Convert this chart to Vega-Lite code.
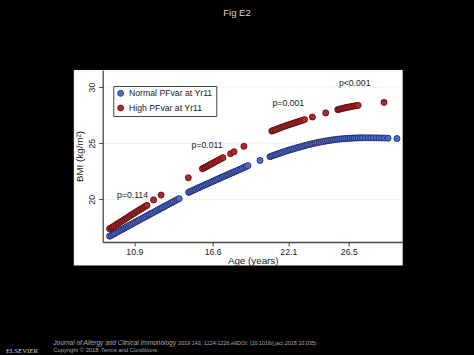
{
  "$schema": "https://vega.github.io/schema/vega-lite/v6.json",
  "autosize": {"type": "none"},
  "width": 300,
  "height": 172,
  "padding": {"left": 102.7, "top": 70, "right": 71.3, "bottom": 113},
  "background": "black",
  "title": {"text": "Fig E2", "color": "#d4d4d4", "fontSize": 9.5, "fontWeight": "normal", "font": "Liberation Sans", "anchor": "middle", "frame": "group", "dx": -15.7, "baseline": "alphabetic", "offset": 45},
  "config": {
    "font": "Liberation Sans",
    "view": {"stroke": null},
    "axis": {"zindex": 1}
  },
  "datasets": {
    "normal": [
      {"age": 9.10, "bmi": 16.72}, {"age": 9.22, "bmi": 16.80}, {"age": 9.35, "bmi": 16.89}, {"age": 9.46, "bmi": 16.96},
      {"age": 9.58, "bmi": 17.04}, {"age": 9.71, "bmi": 17.13}, {"age": 9.83, "bmi": 17.21}, {"age": 9.95, "bmi": 17.29},
      {"age": 10.08, "bmi": 17.37}, {"age": 10.20, "bmi": 17.45}, {"age": 10.33, "bmi": 17.54}, {"age": 10.45, "bmi": 17.62},
      {"age": 10.58, "bmi": 17.71}, {"age": 10.70, "bmi": 17.79}, {"age": 10.84, "bmi": 17.88}, {"age": 10.97, "bmi": 17.97},
      {"age": 11.10, "bmi": 18.05}, {"age": 11.22, "bmi": 18.13}, {"age": 11.36, "bmi": 18.23}, {"age": 11.49, "bmi": 18.31},
      {"age": 11.62, "bmi": 18.40}, {"age": 11.75, "bmi": 18.48}, {"age": 11.88, "bmi": 18.57}, {"age": 12.01, "bmi": 18.66},
      {"age": 12.14, "bmi": 18.74}, {"age": 12.28, "bmi": 18.83}, {"age": 12.41, "bmi": 18.92}, {"age": 12.55, "bmi": 19.01},
      {"age": 12.68, "bmi": 19.10}, {"age": 12.80, "bmi": 19.18}, {"age": 12.93, "bmi": 19.26}, {"age": 13.07, "bmi": 19.35},
      {"age": 13.20, "bmi": 19.44}, {"age": 13.34, "bmi": 19.53}, {"age": 13.48, "bmi": 19.62}, {"age": 13.62, "bmi": 19.71},
      {"age": 13.75, "bmi": 19.80}, {"age": 13.89, "bmi": 19.89}, {"age": 14.03, "bmi": 19.98}, {"age": 14.16, "bmi": 20.06},
      {"age": 14.85, "bmi": 20.62}, {"age": 14.97, "bmi": 20.69}, {"age": 15.10, "bmi": 20.76}, {"age": 15.22, "bmi": 20.83},
      {"age": 15.35, "bmi": 20.90}, {"age": 15.48, "bmi": 20.98}, {"age": 15.60, "bmi": 21.04}, {"age": 15.73, "bmi": 21.12},
      {"age": 15.86, "bmi": 21.19}, {"age": 15.99, "bmi": 21.26}, {"age": 16.12, "bmi": 21.33}, {"age": 16.25, "bmi": 21.41},
      {"age": 16.38, "bmi": 21.48}, {"age": 16.51, "bmi": 21.55}, {"age": 16.64, "bmi": 21.62}, {"age": 16.77, "bmi": 21.69},
      {"age": 16.90, "bmi": 21.77}, {"age": 17.03, "bmi": 21.84}, {"age": 17.16, "bmi": 21.91}, {"age": 17.29, "bmi": 21.98},
      {"age": 17.42, "bmi": 22.05}, {"age": 17.55, "bmi": 22.12}, {"age": 17.68, "bmi": 22.19}, {"age": 17.81, "bmi": 22.26},
      {"age": 17.94, "bmi": 22.33}, {"age": 18.07, "bmi": 22.40}, {"age": 18.20, "bmi": 22.47}, {"age": 18.34, "bmi": 22.54},
      {"age": 18.48, "bmi": 22.62}, {"age": 18.62, "bmi": 22.69}, {"age": 18.76, "bmi": 22.77}, {"age": 18.90, "bmi": 22.85},
      {"age": 19.03, "bmi": 22.92}, {"age": 19.16, "bmi": 23.00},
      {"age": 20.04, "bmi": 23.47},
      {"age": 20.77, "bmi": 23.80}, {"age": 20.90, "bmi": 23.86}, {"age": 21.03, "bmi": 23.92}, {"age": 21.16, "bmi": 23.97},
      {"age": 21.29, "bmi": 24.03}, {"age": 21.42, "bmi": 24.08}, {"age": 21.56, "bmi": 24.14}, {"age": 21.70, "bmi": 24.20},
      {"age": 21.84, "bmi": 24.26}, {"age": 21.98, "bmi": 24.32}, {"age": 22.12, "bmi": 24.37}, {"age": 22.26, "bmi": 24.42},
      {"age": 22.40, "bmi": 24.47}, {"age": 22.55, "bmi": 24.53}, {"age": 22.70, "bmi": 24.58}, {"age": 22.85, "bmi": 24.63},
      {"age": 23.00, "bmi": 24.68}, {"age": 23.15, "bmi": 24.73}, {"age": 23.30, "bmi": 24.78}, {"age": 23.45, "bmi": 24.83},
      {"age": 23.60, "bmi": 24.88}, {"age": 23.75, "bmi": 24.92}, {"age": 23.90, "bmi": 24.97}, {"age": 24.05, "bmi": 25.01},
      {"age": 24.20, "bmi": 25.05}, {"age": 24.35, "bmi": 25.09}, {"age": 24.50, "bmi": 25.12}, {"age": 24.65, "bmi": 25.15},
      {"age": 24.80, "bmi": 25.19}, {"age": 24.95, "bmi": 25.22}, {"age": 25.10, "bmi": 25.25}, {"age": 25.25, "bmi": 25.28},
      {"age": 25.40, "bmi": 25.30}, {"age": 25.55, "bmi": 25.33}, {"age": 25.70, "bmi": 25.35}, {"age": 25.85, "bmi": 25.37},
      {"age": 26.00, "bmi": 25.39}, {"age": 26.15, "bmi": 25.40}, {"age": 26.30, "bmi": 25.42}, {"age": 26.45, "bmi": 25.43},
      {"age": 26.60, "bmi": 25.44}, {"age": 26.75, "bmi": 25.45}, {"age": 26.90, "bmi": 25.46}, {"age": 27.05, "bmi": 25.47},
      {"age": 27.20, "bmi": 25.47}, {"age": 27.35, "bmi": 25.48}, {"age": 27.50, "bmi": 25.48}, {"age": 27.70, "bmi": 25.48},
      {"age": 27.90, "bmi": 25.48}, {"age": 28.10, "bmi": 25.48}, {"age": 28.30, "bmi": 25.48}, {"age": 28.50, "bmi": 25.47},
      {"age": 28.70, "bmi": 25.47}, {"age": 28.90, "bmi": 25.46}, {"age": 29.10, "bmi": 25.46}, {"age": 29.35, "bmi": 25.45},
      {"age": 30.00, "bmi": 25.42}
    ],
    "high": [
      {"age": 9.10, "bmi": 17.38}, {"age": 9.20, "bmi": 17.45}, {"age": 9.31, "bmi": 17.53}, {"age": 9.42, "bmi": 17.61},
      {"age": 9.60, "bmi": 17.76}, {"age": 9.72, "bmi": 17.85}, {"age": 9.85, "bmi": 17.95}, {"age": 9.98, "bmi": 18.05},
      {"age": 10.10, "bmi": 18.14}, {"age": 10.22, "bmi": 18.24}, {"age": 10.35, "bmi": 18.34}, {"age": 10.48, "bmi": 18.44},
      {"age": 10.60, "bmi": 18.54}, {"age": 10.73, "bmi": 18.64}, {"age": 10.86, "bmi": 18.74}, {"age": 10.99, "bmi": 18.84},
      {"age": 11.12, "bmi": 18.94}, {"age": 11.25, "bmi": 19.04}, {"age": 11.40, "bmi": 19.15}, {"age": 11.55, "bmi": 19.26},
      {"age": 11.70, "bmi": 19.38}, {"age": 11.82, "bmi": 19.47}, {"age": 12.30, "bmi": 19.95}, {"age": 12.85, "bmi": 20.38},
      {"age": 14.83, "bmi": 21.92},
      {"age": 15.85, "bmi": 22.73}, {"age": 15.97, "bmi": 22.80}, {"age": 16.08, "bmi": 22.87}, {"age": 16.20, "bmi": 22.95},
      {"age": 16.32, "bmi": 23.03}, {"age": 16.45, "bmi": 23.12}, {"age": 16.58, "bmi": 23.20}, {"age": 16.72, "bmi": 23.30},
      {"age": 16.86, "bmi": 23.39}, {"age": 17.00, "bmi": 23.48}, {"age": 17.18, "bmi": 23.60}, {"age": 17.35, "bmi": 23.71},
      {"age": 17.90, "bmi": 24.06}, {"age": 18.15, "bmi": 24.24}, {"age": 18.87, "bmi": 24.73},
      {"age": 20.90, "bmi": 26.08}, {"age": 21.02, "bmi": 26.14}, {"age": 21.15, "bmi": 26.20}, {"age": 21.30, "bmi": 26.27},
      {"age": 21.45, "bmi": 26.34}, {"age": 21.60, "bmi": 26.41}, {"age": 21.75, "bmi": 26.48}, {"age": 21.90, "bmi": 26.54},
      {"age": 22.05, "bmi": 26.61}, {"age": 22.20, "bmi": 26.67}, {"age": 22.35, "bmi": 26.73}, {"age": 22.50, "bmi": 26.79},
      {"age": 22.65, "bmi": 26.85}, {"age": 22.80, "bmi": 26.91}, {"age": 22.95, "bmi": 26.97}, {"age": 23.10, "bmi": 27.03},
      {"age": 23.28, "bmi": 27.10}, {"age": 23.85, "bmi": 27.33}, {"age": 24.82, "bmi": 27.70},
      {"age": 25.70, "bmi": 27.99}, {"age": 25.82, "bmi": 28.03}, {"age": 25.95, "bmi": 28.07}, {"age": 26.08, "bmi": 28.11},
      {"age": 26.20, "bmi": 28.14}, {"age": 26.33, "bmi": 28.18}, {"age": 26.46, "bmi": 28.21}, {"age": 26.60, "bmi": 28.25},
      {"age": 26.74, "bmi": 28.28}, {"age": 26.88, "bmi": 28.31}, {"age": 27.02, "bmi": 28.34}, {"age": 27.18, "bmi": 28.37},
      {"age": 29.06, "bmi": 28.64}
    ],
    "labels": [
      {"age": 10.77, "bmi": 20.36, "label": "p=0.114"},
      {"age": 16.19, "bmi": 24.81, "label": "p=0.011"},
      {"age": 22.10, "bmi": 28.61, "label": "p=0.001"},
      {"age": 26.93, "bmi": 30.36, "label": "p<0.001"}
    ],
    "grid": [{"bmi": 20}, {"bmi": 25}, {"bmi": 30}],
    "one": [{}]
  },
  "layer": [
    {
      "data": {"name": "one"},
      "mark": {"type": "rect", "fill": "white"},
      "encoding": {
        "x": {"datum": 6.5, "type": "quantitative", "scale": {"domain": [8.6, 30.42], "nice": false, "zero": false}},
        "x2": {"datum": 30.42},
        "y": {"datum": 14.1, "type": "quantitative", "scale": {"domain": [16.2, 31.52], "nice": false, "zero": false}},
        "y2": {"datum": 31.52}
      }
    },
    {
      "data": {"name": "grid"},
      "mark": {"type": "rule", "color": "#ececec", "strokeWidth": 0.8},
      "encoding": {
        "y": {"field": "bmi", "type": "quantitative", "title": "BMI (kg/m²)", "scale": {"domain": [16.2, 31.52], "nice": false, "zero": false}}
      }
    },
    {
      "data": {"name": "normal"},
      "mark": {"type": "circle", "size": 38, "opacity": 1, "stroke": "#1c1c40", "strokeWidth": 0.7},
      "encoding": {
        "x": {"field": "age", "type": "quantitative", "title": "Age (years)",
          "scale": {"domain": [8.6, 30.42], "nice": false, "zero": false},
          "axis": {"zindex": 2, "values": [10.9, 16.6, 22.1, 26.5], "format": ".1f", "grid": false, "domainColor": "#4a4a4a", "domainWidth": 1.3, "tickColor": "#4a4a4a", "tickSize": 4, "labelFontSize": 8.7, "labelColor": "#222", "labelPadding": 1.5, "titleFontSize": 9.8, "titleFontWeight": "normal", "titleColor": "#222", "titlePadding": -1}},
        "y": {"field": "bmi", "type": "quantitative", "title": "BMI (kg/m²)",
          "scale": {"domain": [16.2, 31.52], "nice": false, "zero": false},
          "axis": {"zindex": 2, "values": [20, 25, 30], "grid": false, "labelAngle": -90, "domainColor": "#4a4a4a", "domainWidth": 1.3, "tickColor": "#4a4a4a", "tickSize": 4, "labelFontSize": 8.7, "labelColor": "#222", "labelPadding": 2, "titleFontSize": 9.8, "titleFontWeight": "normal", "titleColor": "#222", "titlePadding": 3}},
        "color": {"datum": "Normal PFvar at Yr11",
          "scale": {"domain": ["Normal PFvar at Yr11", "High PFvar at Yr11"], "range": ["#4b6bd6", "#b3242b"]},
          "legend": {"orient": "none", "legendX": 10.6, "legendY": 16, "title": null, "strokeColor": "#444", "fillColor": "white", "padding": 3, "labelFontSize": 8.7, "labelColor": "#222", "symbolType": "circle", "symbolSize": 36, "symbolStrokeColor": "#222", "symbolStrokeWidth": 0.7, "rowPadding": 3.7, "labelOffset": 4}}
      }
    },
    {
      "data": {"name": "high"},
      "mark": {"type": "circle", "size": 38, "opacity": 1, "stroke": "#3a0c0c", "strokeWidth": 0.7},
      "encoding": {
        "x": {"field": "age", "type": "quantitative", "title": "Age (years)", "scale": {"domain": [8.6, 30.42], "nice": false, "zero": false}},
        "y": {"field": "bmi", "type": "quantitative", "title": "BMI (kg/m²)", "scale": {"domain": [16.2, 31.52], "nice": false, "zero": false}},
        "color": {"datum": "High PFvar at Yr11"}
      }
    },
    {
      "data": {"name": "labels"},
      "mark": {"type": "text", "fontSize": 8.7, "color": "#222", "align": "center", "baseline": "middle"},
      "encoding": {
        "x": {"field": "age", "type": "quantitative", "title": "Age (years)", "scale": {"domain": [8.6, 30.42], "nice": false, "zero": false}},
        "y": {"field": "bmi", "type": "quantitative", "title": "BMI (kg/m²)", "scale": {"domain": [16.2, 31.52], "nice": false, "zero": false}},
        "text": {"field": "label"}
      }
    },
    {
      "data": {"name": "one"},
      "mark": {"type": "text", "align": "left", "baseline": "middle", "fontSize": 6.5, "fontStyle": "italic", "color": "#a8a8a8"},
      "encoding": {
        "x": {"datum": 5.01, "type": "quantitative", "scale": {"domain": [8.6, 30.42], "nice": false, "zero": false}},
        "y": {"datum": 7.24, "type": "quantitative", "scale": {"domain": [16.2, 31.52], "nice": false, "zero": false}},
        "text": {"value": "Journal of Allergy and Clinical Immunology"}
      }
    },
    {
      "data": {"name": "one"},
      "mark": {"type": "text", "align": "left", "baseline": "middle", "fontSize": 5.4, "color": "#a8a8a8"},
      "encoding": {
        "x": {"datum": 14.1, "type": "quantitative", "scale": {"domain": [8.6, 30.42], "nice": false, "zero": false}},
        "y": {"datum": 7.24, "type": "quantitative", "scale": {"domain": [16.2, 31.52], "nice": false, "zero": false}},
        "text": {"value": "2019 143, 1224-1226.e9DOI: (10.1016/j.jaci.2018.10.035)"}
      }
    },
    {
      "data": {"name": "one"},
      "mark": {"type": "text", "align": "left", "baseline": "middle", "fontSize": 5.8, "color": "#a8a8a8"},
      "encoding": {
        "x": {"datum": 5.01, "type": "quantitative", "scale": {"domain": [8.6, 30.42], "nice": false, "zero": false}},
        "y": {"datum": 6.6, "type": "quantitative", "scale": {"domain": [16.2, 31.52], "nice": false, "zero": false}},
        "text": {"value": "Copyright © 2018"}
      }
    },
    {
      "data": {"name": "one"},
      "mark": {"type": "text", "align": "left", "baseline": "middle", "fontSize": 5.8, "color": "#9aa6c4"},
      "encoding": {
        "x": {"datum": 8.48, "type": "quantitative", "scale": {"domain": [8.6, 30.42], "nice": false, "zero": false}},
        "y": {"datum": 6.6, "type": "quantitative", "scale": {"domain": [16.2, 31.52], "nice": false, "zero": false}},
        "text": {"value": "Terms and Conditions"}
      }
    },
    {
      "data": {"name": "one"},
      "mark": {"type": "text", "align": "center", "baseline": "middle", "fontSize": 6.8, "font": "Liberation Serif", "color": "#c8c8c8"},
      "encoding": {
        "x": {"datum": 2.73, "type": "quantitative", "scale": {"domain": [8.6, 30.42], "nice": false, "zero": false}},
        "y": {"datum": 6.46, "type": "quantitative", "scale": {"domain": [16.2, 31.52], "nice": false, "zero": false}},
        "text": {"value": "ELSEVIER"}
      }
    }
  ]
}
